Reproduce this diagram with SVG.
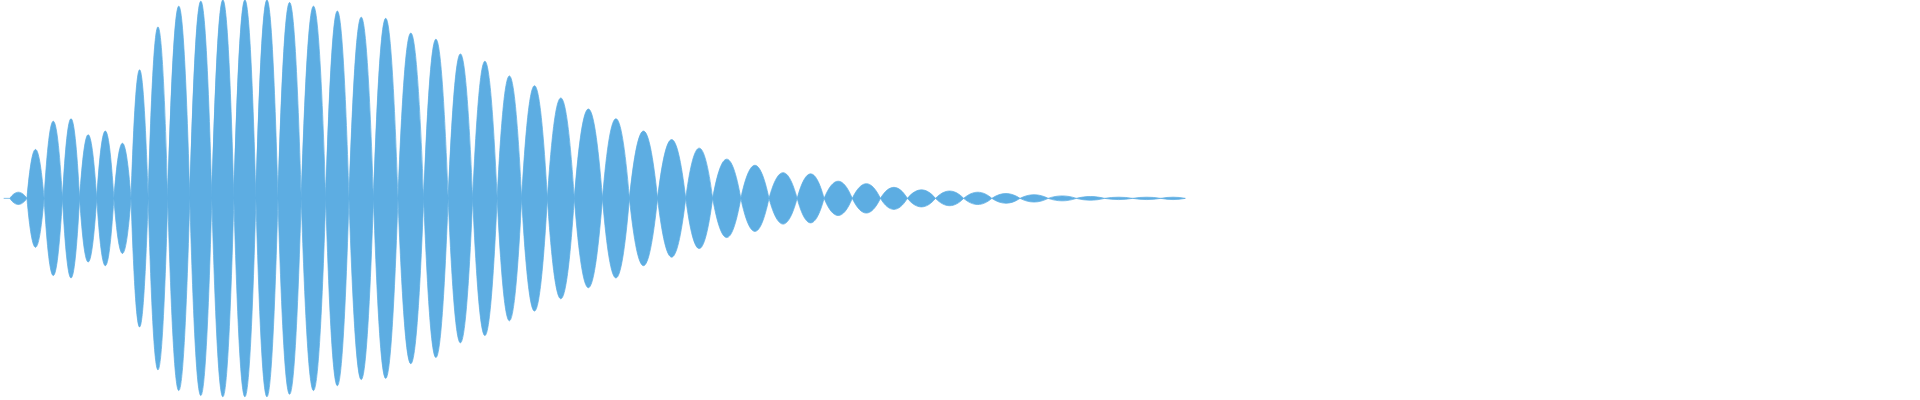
<svg xmlns="http://www.w3.org/2000/svg" width="1920" height="400" viewBox="0 0 1920 400">
<style>.w{fill:#5DADE2;stroke:#5DADE2;stroke-width:0.6}</style>
<rect width="1920" height="400" fill="#fff"/>
<g transform="scale(1.2245)">
<path class="w" d="
M8 162C12.7 155.3 17.3 155.3 22 162C17.3 168.7 12.7 168.7 8 162Z
M22 162C26.7 108.7 31.3 108.7 36 162C31.3 215.3 26.7 215.3 22 162Z
M36 162C41 78 46 78 51 162C46 246 41 246 36 162Z
M51 162C55.7 75.3 60.3 75.3 65 162C60.3 248.7 55.7 248.7 51 162Z
M65 162C69.7 92.7 74.3 92.7 79 162C74.3 231.3 69.7 231.3 65 162Z
M79 162C83.7 88.7 88.3 88.7 93 162C88.3 235.3 83.7 235.3 79 162Z
M93 162C97.7 102 102.3 102 107 162C102.3 222 97.7 222 93 162Z
M107 162C111.7 22 116.3 22 121 162C116.3 302 111.7 302 107 162Z
M121 162C126.3 -24.7 131.7 -24.7 137 162C131.7 348.7 126.3 348.7 121 162Z
M137 162C143 -47.3 149 -47.3 155 162C149 371.3 143 371.3 137 162Z
M155 162C161 -52.7 167 -52.7 173 162C167 376.7 161 376.7 155 162Z
M173 162C179 -54 185 -54 191 162C185 378 179 378 173 162Z
M191 162C197 -54 203 -54 209 162C203 378 197 378 191 162Z
M209 162C215 -54 221 -54 227 162C221 378 215 378 209 162Z
M227 162C233.3 -51.3 239.7 -51.3 246 162C239.7 375.3 233.3 375.3 227 162Z
M246 162C252.7 -47.3 259.3 -47.3 266 162C259.3 371.3 252.7 371.3 246 162Z
M266 162C272.3 -42 278.7 -42 285 162C278.7 366 272.3 366 266 162Z
M285 162C291.7 -35.3 298.3 -35.3 305 162C298.3 359.3 291.7 359.3 285 162Z
M305 162C311.7 -34 318.3 -34 325 162C318.3 358 311.7 358 305 162Z
M325 162C332 -18 339 -18 346 162C339 342 332 342 325 162Z
M346 162C352.7 -11.3 359.3 -11.3 366 162C359.3 335.3 352.7 335.3 346 162Z
M366 162C372.7 4.7 379.3 4.7 386 162C379.3 319.3 372.7 319.3 366 162Z
M386 162C392.7 12.7 399.3 12.7 406 162C399.3 311.3 392.7 311.3 386 162Z
M406 162C412.7 28.7 419.3 28.7 426 162C419.3 295.3 412.7 295.3 406 162Z
M426 162C433 39.3 440 39.3 447 162C440 284.7 433 284.7 426 162Z
M447 162C454.3 52.7 461.7 52.7 469 162C461.7 271.3 454.3 271.3 447 162Z
M469 162C476.7 64.7 484.3 64.7 492 162C484.3 259.3 476.7 259.3 469 162Z
M492 162C499.3 75.3 506.7 75.3 514 162C506.7 248.7 499.3 248.7 492 162Z
M514 162C521.7 88.7 529.3 88.7 537 162C529.3 235.3 521.7 235.3 514 162Z
M537 162C544.7 98 552.3 98 560 162C552.3 226 544.7 226 537 162Z
M560 162C567.3 107.3 574.7 107.3 582 162C574.7 216.7 567.3 216.7 560 162Z
M582 162C589.7 119.3 597.3 119.3 605 162C597.3 204.7 589.7 204.7 582 162Z
M605 162C612.7 126 620.3 126 628 162C620.3 198 612.7 198 605 162Z
M628 162C635.7 134 643.3 134 651 162C643.3 190 635.7 190 628 162Z
M651 162C658.3 135.3 665.7 135.3 673 162C665.7 188.7 658.3 188.7 651 162Z
M673 162C680.7 143.3 688.3 143.3 696 162C688.3 180.7 680.7 180.7 673 162Z
M696 162C703.7 146 711.3 146 719 162C711.3 178 703.7 178 696 162Z
M719 162C726.3 150 733.7 150 741 162C733.7 174 726.3 174 719 162Z
M741 162C748.7 152.7 756.3 152.7 764 162C756.3 171.3 748.7 171.3 741 162Z
M764 162C771.7 154 779.3 154 787 162C779.3 170 771.7 170 764 162Z
M787 162C794.7 155.3 802.3 155.3 810 162C802.3 168.7 794.7 168.7 787 162Z
M810 162C817.7 156.7 825.3 156.7 833 162C825.3 167.3 817.7 167.3 810 162Z
M833 162C840.7 158 848.3 158 856 162C848.3 166 840.7 166 833 162Z
M856 162C863.7 159.3 871.3 159.3 879 162C871.3 164.7 863.7 164.7 856 162Z
M879 162C886.7 160 894.3 160 902 162C894.3 164 886.7 164 879 162Z
M902 162C909.7 160.7 917.3 160.7 925 162C917.3 163.3 909.7 163.3 902 162Z
M925 162C932.7 160.7 940.3 160.7 948 162C940.3 163.3 932.7 163.3 925 162Z
M948 162C954.7 160.7 961.3 160.7 968 162C961.3 163.3 954.7 163.3 948 162Z
M3 162L8 162"/>
</g>
</svg>
